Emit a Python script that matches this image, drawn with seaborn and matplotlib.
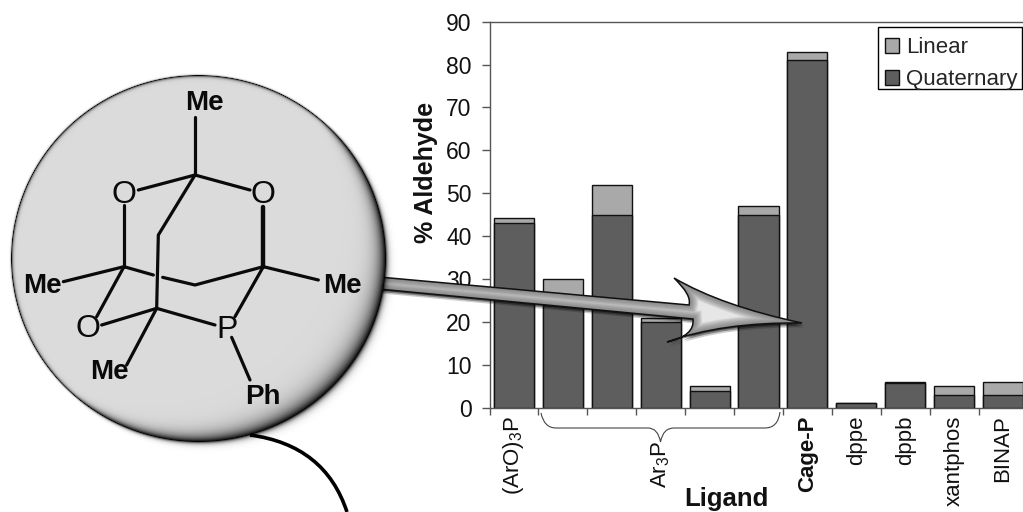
import numpy as np
import matplotlib
matplotlib.use('Agg')
import matplotlib.pyplot as plt
import seaborn as sns
from matplotlib.path import Path
from matplotlib.patches import PathPatch, Rectangle

# Chart data
ligands = ['(ArO)3P', 'Ar3P a', 'Ar3P b', 'Ar3P c', 'Ar3P d', 'Ar3P e',
           'Cage-P', 'dppe', 'dppb', 'xantphos', 'BINAP']
quaternary = [43, 24, 45, 20, 4, 45, 81, 1, 5.7, 3, 3]
linear = [1.2, 6, 7, 1, 1, 2, 2, 0, 0.3, 2, 3]
tick_labels = ['(ArO)$_3$P', '', '', 'Ar$_3$P', '', '',
               'Cage-P', 'dppe', 'dppb', 'xantphos', 'BINAP']
y_ticks = [0, 10, 20, 30, 40, 50, 60, 70, 80, 90]

sns.set_style('white')
plt.rcParams['font.family'] = ['Liberation Sans', 'DejaVu Sans']
plt.rcParams['mathtext.default'] = 'regular'

W, H = 1023, 512
fig = plt.figure(figsize=(W / 100, H / 100), dpi=100)
ax = fig.add_axes([489.5 / W, 1 - 407.7 / H, 538 / W, 386 / H])

totals = np.array(quaternary) + np.array(linear)
sns.barplot(x=ligands, y=totals, color='#a9a9a9', saturation=1, width=0.82,
            edgecolor='#111111', linewidth=1, label='Linear', ax=ax)
sns.barplot(x=ligands, y=quaternary, color='#5e5e5e', saturation=1, width=0.82,
            edgecolor='#111111', linewidth=1, label='Quaternary', ax=ax)

ax.set_xlim(-0.5, 10.5)
ax.set_ylim(0, 90)
ax.set_yticks(y_ticks)
ax.tick_params(axis='y', labelsize=16.5, length=6, width=1, color='#555555', left=True, pad=7,
               labelcolor='#111111')
ax.set_xticks(range(len(ligands)))
ax.set_xticklabels(tick_labels, rotation=90, fontsize=16, va='top', ha='center', color='#111111')
ax.set_xticks(np.arange(-0.5, 11), minor=True)
ax.tick_params(axis='x', which='major', length=0, pad=5.5)
ax.tick_params(axis='x', which='minor', length=5, width=1, color='#555555', bottom=True)
ax.get_xaxis().get_major_ticks()[3].set_pad(24)
ax.get_xticklabels()[6].set_fontweight('bold')

for side in ['left', 'top', 'bottom']:
    ax.spines[side].set_color('#555555')
    ax.spines[side].set_linewidth(1)
ax.spines['right'].set_visible(False)

ax.set_xlabel('')
ax.set_ylabel('')
fig.text(426 / W, 1 - 172 / H, '% Aldehyde', rotation=90, fontsize=18, fontweight='bold',
         ha='center', va='center', color='#111111')
fig.text(726 / W, 1 - 499 / H, 'Ligand', fontsize=18.5, fontweight='bold',
         ha='center', va='center', color='#111111')

# seaborn adds its own legend for label=, the real one goes on the overlay
handles, labels = ax.get_legend_handles_labels()
if ax.get_legend() is not None:
    ax.get_legend().remove()

# overlay in pixel coordinates for the legend box, the structure, the arrow and the brace
ov = fig.add_axes([0, 0, 1, 1])
ov.set_xlim(0, W)
ov.set_ylim(H, 0)
ov.axis('off')
ov.patch.set_alpha(0)

ov.add_patch(Rectangle((878, 27), 144, 62, facecolor='white', edgecolor='black', lw=1, zorder=1))
leg = ov.legend(handles, labels, loc='upper left', bbox_to_anchor=(885 / W, 1 - 37 / H),
                bbox_transform=fig.transFigure, fontsize=16, frameon=False,
                handlelength=0.65, handleheight=0.65, handletextpad=0.3, labelspacing=0.5,
                borderpad=0, borderaxespad=0)

# brace under the Ar3P bars
brace = Path([(541, 413), (544, 428), (556, 428), (648, 428), (658, 428), (660.5, 442),
              (663, 428), (674, 428), (765, 428), (778, 428), (780, 412)],
             [Path.MOVETO, Path.CURVE3, Path.CURVE3, Path.LINETO, Path.CURVE3, Path.CURVE3,
              Path.CURVE3, Path.CURVE3, Path.LINETO, Path.CURVE3, Path.CURVE3])
ov.add_patch(PathPatch(brace, fill=False, edgecolor='#444444', lw=0.8))

# grey arrow from the disc to the Cage-P bar, its tail runs under the disc
arrow = Path([(368, 276), (689, 305), (692, 295), (674, 278), (722, 306), (802, 323),
              (722, 322), (667, 342), (695, 336), (693, 319), (368, 288), (368, 276)],
             [Path.MOVETO, Path.LINETO, Path.CURVE3, Path.CURVE3, Path.CURVE3, Path.CURVE3,
              Path.CURVE3, Path.CURVE3, Path.CURVE3, Path.CURVE3, Path.LINETO, Path.CLOSEPOLY])
for off, a in [((1, 1.5), 0.5), ((2, 3), 0.35), ((3, 4.5), 0.2)]:
    shadow = Path(arrow.vertices + np.array(off), arrow.codes)
    ov.add_patch(PathPatch(shadow, facecolor='black', edgecolor='none', alpha=a, zorder=6))
body = PathPatch(arrow, facecolor='#e6e6e6', edgecolor='none', zorder=7)
ov.add_patch(body)
for lw in np.arange(13, 0.5, -1.4):
    glow = PathPatch(arrow, fill=False, edgecolor='#666666', lw=lw, alpha=0.12, zorder=8)
    ov.add_patch(glow)
    glow.set_clip_path(body)
ov.add_patch(PathPatch(arrow, fill=False, edgecolor='#111111', lw=1.1, zorder=9))

# shaded disc behind the molecule
cx, cy, rx, ry = 198, 258, 187, 183
xx, yy = np.meshgrid(np.arange(0, 420), np.arange(50, 470))
dx, dy = (xx - cx) / rx, (yy - cy) / ry
e = np.hypot(dx, dy)
depth = (1 - e) * 185
facing = np.clip((dx * 0.75 + dy * 0.66) / np.maximum(e, 1e-6), 0, 1)
thick = 1.2 + 8 * facing
inside = 0.86 - 0.84 * np.exp(-np.maximum(depth, 0) / thick)
shade_out = np.exp(np.minimum(depth, 0) / (0.6 + 2.2 * facing))
gray = np.where(depth >= 0, inside, 0.0)
alpha = np.where(depth >= 0, 1.0, shade_out)
rgba = np.dstack([gray, gray, gray, alpha])
ov.imshow(rgba, extent=(0, 420, 470, 50), aspect='auto', interpolation='bilinear', zorder=10)
ov.set_xlim(0, W)
ov.set_ylim(H, 0)

# tail curve leaving the disc
tail = Path([(250, 435), (325, 445), (347, 512)], [Path.MOVETO, Path.CURVE3, Path.CURVE3])
ov.add_patch(PathPatch(tail, fill=False, edgecolor='black', lw=2.6, zorder=11))


def z(px, py):
    return px / 3, 50 + py / 3


bonds = [
    [(585, 200), (585, 375)],
    [(415, 420), (585, 375), (750, 420)],
    [(585, 375), (475, 555), (470, 775)],
    [(372, 465), (372, 650)],
    [(190, 695), (372, 650), (460, 675)],
    [(488, 682), (585, 705), (790, 650), (955, 690)],
    [(372, 650), (290, 800)],
    [(305, 825), (470, 775), (645, 825)],
    [(470, 775), (380, 945)],
    [(790, 650), (705, 800)],
    [(695, 862), (750, 990)],
]
for b in bonds:
    pts = np.array([z(*p) for p in b])
    ov.plot(pts[:, 0], pts[:, 1], color='#0a0a0a', lw=2.3, solid_capstyle='round', zorder=12)
pts = np.array([z(790, 470), z(790, 650)])
ov.plot(pts[:, 0], pts[:, 1], color='#0a0a0a', lw=3.2, zorder=12)

atoms = [('Me', 612, 160), ('O', 372, 435), ('O', 790, 435), ('Me', 128, 707), ('Me', 1027, 707),
         ('O', 265, 838), ('P', 680, 840), ('Me', 328, 965), ('Ph', 790, 1040)]
for name, px, py in atoms:
    tx, ty = z(px, py)
    bold = name in ('Me', 'Ph')
    ov.text(tx, ty, name, fontsize=20 if bold else 23, ha='center', va='center', color='#0a0a0a',
            zorder=13, fontweight='bold' if bold else 'normal')

fig.savefig('out.png', dpi=100)
